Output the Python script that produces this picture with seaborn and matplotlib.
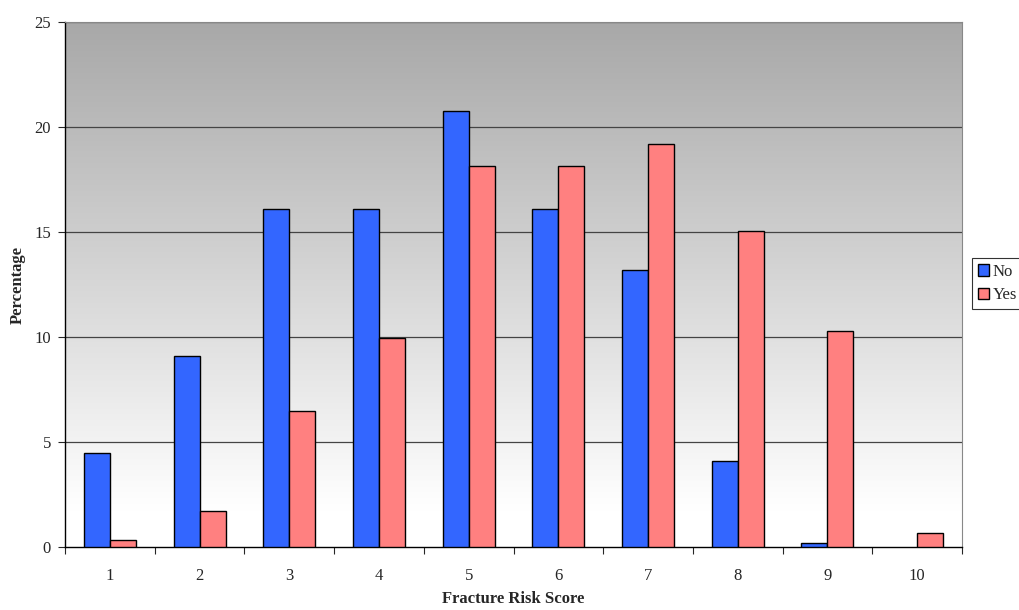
import matplotlib
matplotlib.use("Agg")
import matplotlib.pyplot as plt
import seaborn as sns
import numpy as np
import pandas as pd
from matplotlib.patches import Patch
from matplotlib.colors import LinearSegmentedColormap

categories = ["1", "2", "3", "4", "5", "6", "7", "8", "9", "10"]
no_values = [4.48, 9.1, 16.1, 16.1, 20.75, 16.1, 13.19, 4.08, 0.2, 0.0]
yes_values = [0.33, 1.71, 6.5, 9.95, 18.15, 18.15, 19.19, 15.05, 10.28, 0.69]
series_names = ["No", "Yes"]
colors = ["#3366FF", "#FF8080"]

df = pd.DataFrame({
    "score": categories * 2,
    "pct": no_values + yes_values,
    "group": ["No"] * len(categories) + ["Yes"] * len(categories),
})

sns.set_style("white")
plt.rcParams["font.family"] = ["Liberation Serif", "DejaVu Serif"]
FS = 12

fig = plt.figure(figsize=(10.2, 6.1), dpi=100)
ax = fig.add_axes([65/1020, 63/610, (962-65)/1020, (547-22)/610])

# gradient background
cmap = LinearSegmentedColormap.from_list("g", [(0, "#ffffff"), (0.07, "#ffffff"), (1, "#a8a8a8")])
grad = np.linspace(0, 1, 256).reshape(-1, 1)
ax.imshow(grad, aspect="auto", cmap=cmap, origin="lower",
          extent=[-0.5, 9.5, 0, 25], zorder=0)

sns.barplot(data=df, x="score", y="pct", hue="group", order=categories,
            hue_order=series_names, palette=colors, width=0.58, dodge=True,
            edgecolor="black", linewidth=1, saturation=1, legend=False, ax=ax,
            zorder=3)
for p in ax.patches:
    if p.get_height() == 0:
        p.set_visible(False)

ax.set_xlim(-0.5, 9.5)
ax.set_ylim(0, 25)
ax.set_yticks([0, 5, 10, 15, 20, 25])
for y in [5, 10, 15, 20, 25]:
    ax.axhline(y, color="#444444", linewidth=0.9, zorder=1)

ax.set_xticks(range(10))
ax.set_xticklabels(categories)
ax.set_xticks(np.arange(-0.5, 10, 1), minor=True)
ax.tick_params(axis="x", which="major", length=0, pad=15, labelsize=FS)
ax.tick_params(axis="x", which="minor", length=5, width=0.8, direction="out", bottom=True)
ax.tick_params(axis="y", which="major", length=5, width=0.8, direction="out", left=True, labelsize=FS, pad=5)

for side in ["left", "bottom"]:
    ax.spines[side].set_color("black")
    ax.spines[side].set_linewidth(1)
for side in ["top", "right"]:
    ax.spines[side].set_color("#888888")
    ax.spines[side].set_linewidth(0.8)

ax.set_xlabel("Fracture Risk Score", fontweight="bold", fontsize=FS, labelpad=5)
ax.set_ylabel("Percentage", fontweight="bold", fontsize=FS, labelpad=6)

handles = [Patch(facecolor=c, edgecolor="black", linewidth=1, label=n) for c, n in zip(colors, series_names)]
leg = fig.legend(handles=handles, loc="upper left", bbox_to_anchor=(972/1020, 1 - 258/610),
                 frameon=True, fancybox=False, edgecolor="black", fontsize=FS,
                 handlelength=0.7, handleheight=0.7, handletextpad=0.2,
                 borderpad=0.35, labelspacing=0.45, borderaxespad=0)
leg.get_frame().set_linewidth(0.8)

fig.savefig("out.png", dpi=100)
